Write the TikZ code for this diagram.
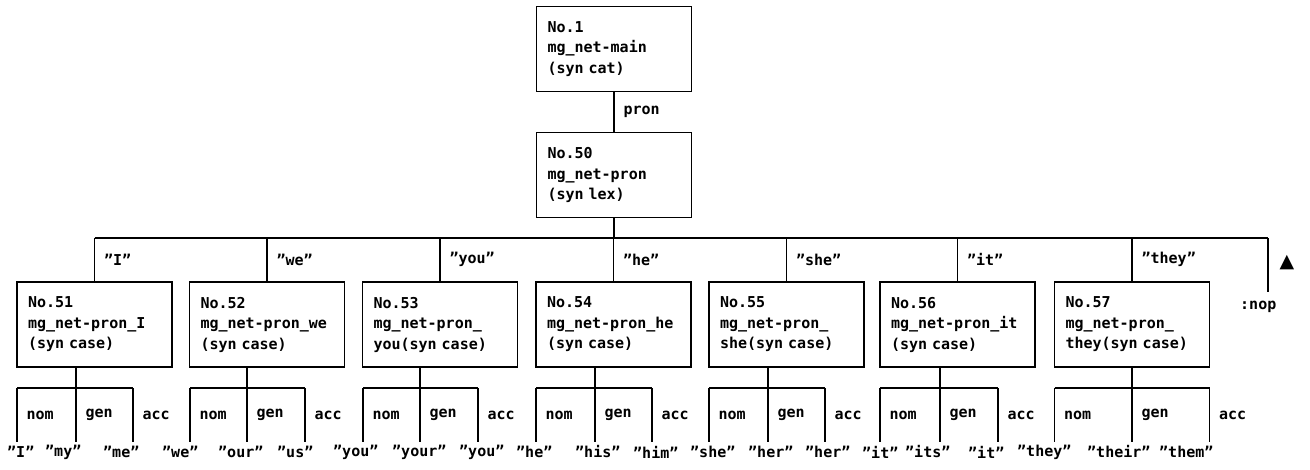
\documentclass[tikz,border=0pt]{standalone}
\usepackage{fontspec}
\setmonofont{DejaVu Sans Mono}
\newfontfamily\symbolfont{DejaVu Sans}
\begin{document}
\begin{tikzpicture}[x=1pt,y=-1pt,
  netbox/.style={draw,line width=1.2pt,rectangle,minimum width=155pt,minimum height=85pt,inner xsep=11pt,text width=133pt,align=left,font=\ttfamily\bfseries\fontsize{15}{20.5}\selectfont},
  arclabel/.style={midway,anchor=west,inner sep=0pt,xshift=9pt,font=\ttfamily\bfseries\fontsize{15}{18}\selectfont},
  word/.style={inner sep=0pt,anchor=west,font=\ttfamily\bfseries\fontsize{15}{18}\selectfont},
  link/.style={line width=1.2pt}]
\path[use as bounding box] (0,0) rectangle (1310,469);
% upper nets
\node[netbox] (n1) at (614,49) {No.1\\mg\_net-main\\(syn cat)};
\node[netbox] (n50) at (614,175) {No.50\\mg\_net-pron\\(syn lex)};
\draw[link] (n1) -- node[arclabel] {pron} (n50);
\coordinate (bus) at (614,238);
\coordinate (busL) at (94.5,238);
\coordinate (busR) at (1268,238);
\coordinate (leaf) at (0,442);
\draw[link] (n50) -- (bus);
\draw[link] (busL) -- (busR);
% lexical nets
\node[netbox] (n51) at (94.5,324.5) {No.51\\mg\_net-pron\_I\\(syn case)};
\node[netbox] (n52) at (267,324.5) {No.52\\mg\_net-pron\_we\\(syn case)};
\node[netbox] (n53) at (440,324.5) {No.53\\mg\_net-pron\_\\you(syn case)};
\node[netbox] (n54) at (613.5,324.5) {No.54\\mg\_net-pron\_he\\(syn case)};
\node[netbox] (n55) at (786.5,324.5) {No.55\\mg\_net-pron\_\\she(syn case)};
\node[netbox] (n56) at (957.5,324.5) {No.56\\mg\_net-pron\_it\\(syn case)};
\node[netbox] (n57) at (1132,324.5) {No.57\\mg\_net-pron\_\\they(syn case)};
\draw[link] (busL) -- node[arclabel] {”I”} (n51);
\draw[link] (n52 |- bus) -- node[arclabel] {”we”} (n52);
\draw[link] (n53 |- bus) -- node[arclabel] {”you”} (n53);
\draw[link] (n54 |- bus) -- node[arclabel] {”he”} (n54);
\draw[link] (n55 |- bus) -- node[arclabel] {”she”} (n55);
\draw[link] (n56 |- bus) -- node[arclabel] {”it”} (n56);
\draw[link] (n57 |- bus) -- node[arclabel] {”they”} (n57);
\node[word] (nop) at (1240,307) {:nop};
\coordinate (nopend) at (1268,292);
\draw[link] (busR) -- (nopend);
\node[inner sep=0pt,font=\symbolfont\fontsize{19}{19}\selectfont] (up) at (1287,263) {▲};
% case branches
\coordinate (nom51) at (17,388); \coordinate (gen51) at (76,388); \coordinate (acc51) at (133,388);
\draw[link] (n51.south -| gen51) -- (gen51); \draw[link] (nom51) -- (acc51);
\draw[link] (nom51) -- node[arclabel] {nom} (nom51 |- leaf); \draw[link] (gen51) -- node[arclabel] {gen} (gen51 |- leaf); \draw[link] (acc51) -- node[arclabel] {acc} (acc51 |- leaf);
\coordinate (nom52) at (190,388); \coordinate (gen52) at (247,388); \coordinate (acc52) at (305,388);
\draw[link] (n52.south -| gen52) -- (gen52); \draw[link] (nom52) -- (acc52);
\draw[link] (nom52) -- node[arclabel] {nom} (nom52 |- leaf); \draw[link] (gen52) -- node[arclabel] {gen} (gen52 |- leaf); \draw[link] (acc52) -- node[arclabel] {acc} (acc52 |- leaf);
\coordinate (nom53) at (363,388); \coordinate (gen53) at (420,388); \coordinate (acc53) at (478,388);
\draw[link] (n53.south -| gen53) -- (gen53); \draw[link] (nom53) -- (acc53);
\draw[link] (nom53) -- node[arclabel] {nom} (nom53 |- leaf); \draw[link] (gen53) -- node[arclabel] {gen} (gen53 |- leaf); \draw[link] (acc53) -- node[arclabel] {acc} (acc53 |- leaf);
\coordinate (nom54) at (536,388); \coordinate (gen54) at (595,388); \coordinate (acc54) at (652,388);
\draw[link] (n54.south -| gen54) -- (gen54); \draw[link] (nom54) -- (acc54);
\draw[link] (nom54) -- node[arclabel] {nom} (nom54 |- leaf); \draw[link] (gen54) -- node[arclabel] {gen} (gen54 |- leaf); \draw[link] (acc54) -- node[arclabel] {acc} (acc54 |- leaf);
\coordinate (nom55) at (709,388); \coordinate (gen55) at (768,388); \coordinate (acc55) at (825,388);
\draw[link] (n55.south -| gen55) -- (gen55); \draw[link] (nom55) -- (acc55);
\draw[link] (nom55) -- node[arclabel] {nom} (nom55 |- leaf); \draw[link] (gen55) -- node[arclabel] {gen} (gen55 |- leaf); \draw[link] (acc55) -- node[arclabel] {acc} (acc55 |- leaf);
\coordinate (nom56) at (880,388); \coordinate (gen56) at (940,388); \coordinate (acc56) at (998,388);
\draw[link] (n56.south -| gen56) -- (gen56); \draw[link] (nom56) -- (acc56);
\draw[link] (nom56) -- node[arclabel] {nom} (nom56 |- leaf); \draw[link] (gen56) -- node[arclabel] {gen} (gen56 |- leaf); \draw[link] (acc56) -- node[arclabel] {acc} (acc56 |- leaf);
\coordinate (nom57) at (1054.5,388); \coordinate (gen57) at (1132,388); \coordinate (acc57) at (1209.5,388);
\draw[link] (n57.south -| gen57) -- (gen57); \draw[link] (nom57) -- (acc57);
\draw[link] (nom57) -- node[arclabel] {nom} (nom57 |- leaf); \draw[link] (gen57) -- node[arclabel] {gen} (gen57 |- leaf); \draw[link] (acc57) -- node[arclabel] {acc} (acc57 |- leaf);
% word forms
\node[word] (wI) at (7,452) {”I”}; \node[word] (wmy) at (45,452) {”my”}; \node[word] (wme) at (103,452) {”me”};
\node[word] (wwe) at (162,452) {”we”}; \node[word] (wour) at (218,452) {”our”}; \node[word] (wus) at (277,452) {”us”};
\node[word] (wyou) at (333,452) {”you”}; \node[word] (wyour) at (392,452) {”your”}; \node[word] (wyouacc) at (459,452) {”you”};
\node[word] (whe) at (516,452) {”he”}; \node[word] (whis) at (575,452) {”his”}; \node[word] (whim) at (633,452) {”him”};
\node[word] (wshe) at (690,452) {”she”}; \node[word] (wher) at (748,452) {”her”}; \node[word] (wheracc) at (805,452) {”her”};
\node[word] (wit) at (862,452) {”it”}; \node[word] (wits) at (905,452) {”its”}; \node[word] (witacc) at (968,452) {”it”};
\node[word] (wthey) at (1017,452) {”they”}; \node[word] (wtheir) at (1087,452) {”their”}; \node[word] (wthem) at (1159,452) {”them”};
\end{tikzpicture}
\end{document}
